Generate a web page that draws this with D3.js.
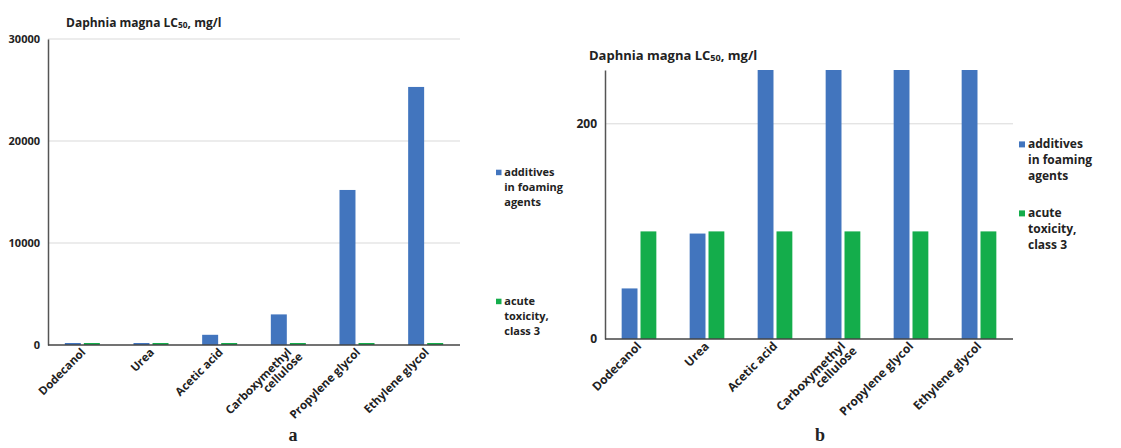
<!DOCTYPE html>
<html>
<head>
<meta charset="utf-8">
<script src="https://cdn.jsdelivr.net/npm/d3@7"></script>
<style>
  body { margin: 0; background: #fff; }
  svg text { font-family: "Open Sans", sans-serif; font-weight: 700; fill: #222; }
</style>
</head>
<body>
<svg width="1121" height="448"></svg>
<script>
const categories = ["Dodecanol", "Urea", "Acetic acid", "Carboxymethyl\ncellulose", "Propylene glycol", "Ethylene glycol"];
const series = ["additives in foaming agents", "acute toxicity, class 3"];
const additives = [100, 100, 1000, 3000, 15200, 25300];
const additivesZoom = [47, 98, 1000, 3000, 15200, 25300];
const acuteClass3 = [100, 100, 100, 100, 100, 100];
const ticksA = [0, 10000, 20000, 30000];
const ticksB = [0, 200];
const legendA = [["additives", "in foaming", "agents"], ["acute", "toxicity,", "class 3"]];

const colors = ["#4275be", "#14ad4b"];
const svg = d3.select("svg");

function drawChart(opt) {
    const g = svg.append("g");

    const x0 = d3.scaleBand().domain(categories)
        .range([opt.left, opt.right]).paddingInner(0.49).paddingOuter(0.245);
    const x1 = d3.scaleBand().domain(series)
        .range([0, x0.bandwidth()]).paddingInner(0.16);
    const y = d3.scaleLinear().domain(opt.domain)
        .range([opt.bottom, opt.top]).clamp(true);

    // gridlines
    g.selectAll(".grid")
        .data(opt.ticks.filter(t => t > 0))
        .enter().append("line")
        .attr("x1", opt.left).attr("x2", opt.right)
        .attr("y1", d => y(d)).attr("y2", d => y(d))
        .attr("stroke", "#d9d9d9").attr("stroke-width", 1);

    const rows = categories.map((c, i) => ({cat: c, vals: [opt.values[0][i], opt.values[1][i]]}));

    g.selectAll(".cat")
        .data(rows)
        .enter().append("g")
        .attr("transform", d => `translate(${x0(d.cat)},0)`)
        .selectAll("rect")
        .data(d => d.vals.map((v, j) => ({s: series[j], v: v, j: j})))
        .enter().append("rect")
        .attr("x", d => x1(d.s))
        .attr("width", x1.bandwidth())
        .attr("y", d => Math.min(y(d.v), opt.bottom - opt.minH))
        .attr("height", d => Math.max(opt.bottom - y(d.v), opt.minH))
        .attr("fill", d => colors[d.j]);

    // y axis
    const yAxis = g.append("g")
        .attr("transform", `translate(${opt.left},0)`)
        .call(d3.axisLeft(y).tickValues(opt.ticks).tickFormat(d3.format("d")).tickSize(0).tickPadding(8));
    yAxis.select(".domain").attr("stroke", "#555").attr("stroke-width", 1.5);
    yAxis.selectAll("text").style("font-size", opt.tickFont + "px")
        .style("font-family", "'Open Sans', sans-serif").style("font-weight", 700).attr("fill", "#222");

    // x axis
    g.append("line")
        .attr("x1", opt.left).attr("x2", opt.right)
        .attr("y1", opt.bottom).attr("y2", opt.bottom)
        .attr("stroke", "#444").attr("stroke-width", 1.5);

    // category labels
    g.selectAll(".lab")
        .data(categories)
        .enter().append("text")
        .attr("transform", d => `translate(${x0(d) + x0.bandwidth() / 2 + opt.labDx},${opt.bottom + opt.labDy}) rotate(-45)`)
        .attr("text-anchor", "end")
        .style("font-size", opt.labFont + "px")
        .each(function(d) {
            const lines = d.split("\n");
            const t = d3.select(this);
            lines.forEach((l, k) => {
                t.append("tspan").attr("x", k ? opt.labFont * 0.4 : 0).attr("dy", k ? opt.labFont * 0.95 : 0).text(l);
            });
        });

    // title
    const title = g.append("text")
        .attr("x", opt.titleX).attr("y", opt.titleY)
        .style("font-size", opt.titleFont + "px");
    title.append("tspan").text("Daphnia magna LC");
    title.append("tspan").style("font-size", (opt.titleFont * 0.7) + "px").attr("dy", 1).text("50");
    title.append("tspan").attr("dy", -1).text(", mg/l");

    // legend
    legendA.forEach((lines, j) => {
        const ly = opt.legendY[j];
        g.append("rect")
            .attr("x", opt.legendX).attr("y", ly - opt.legendFont * 0.3)
            .attr("width", opt.legendFont * 0.5).attr("height", opt.legendFont * 0.5)
            .attr("fill", colors[j]);
        const t = g.append("text")
            .attr("x", opt.legendX + opt.legendFont * 0.75).attr("y", ly)
            .attr("dominant-baseline", "middle")
            .style("font-size", opt.legendFont + "px");
        lines.forEach((l, k) => {
            t.append("tspan").attr("x", opt.legendX + opt.legendFont * 0.75)
                .attr("dy", k ? opt.legendFont * 1.35 : 0).text(l);
        });
    });

    // panel letter
    g.append("text")
        .attr("x", opt.letterX).attr("y", 441)
        .attr("text-anchor", "middle")
        .style("font-family", "'Liberation Serif', serif").style("font-weight", 700)
        .style("font-size", "18px").attr("fill", "#000")
        .text(opt.letter);
}

drawChart({
    left: 48, right: 460, top: 39, bottom: 345,
    domain: [0, 30000], ticks: ticksA, minH: 2,
    values: [additives, acuteClass3],
    tickFont: 11, labFont: 11.5, labDx: 4, labDy: 8,
    titleX: 66, titleY: 27, titleFont: 12,
    legendX: 496, legendY: [173, 302], legendFont: 11,
    letterX: 293, letter: "a"
});

drawChart({
    left: 605, right: 1013, top: 70, bottom: 339,
    domain: [0, 250], ticks: ticksB, minH: 0,
    values: [additivesZoom, acuteClass3],
    tickFont: 12, labFont: 12, labDx: 3, labDy: 8,
    titleX: 589, titleY: 60, titleFont: 13,
    legendX: 1019, legendY: [145, 214], legendFont: 12,
    letterX: 820, letter: "b"
});
</script>
</body>
</html>
